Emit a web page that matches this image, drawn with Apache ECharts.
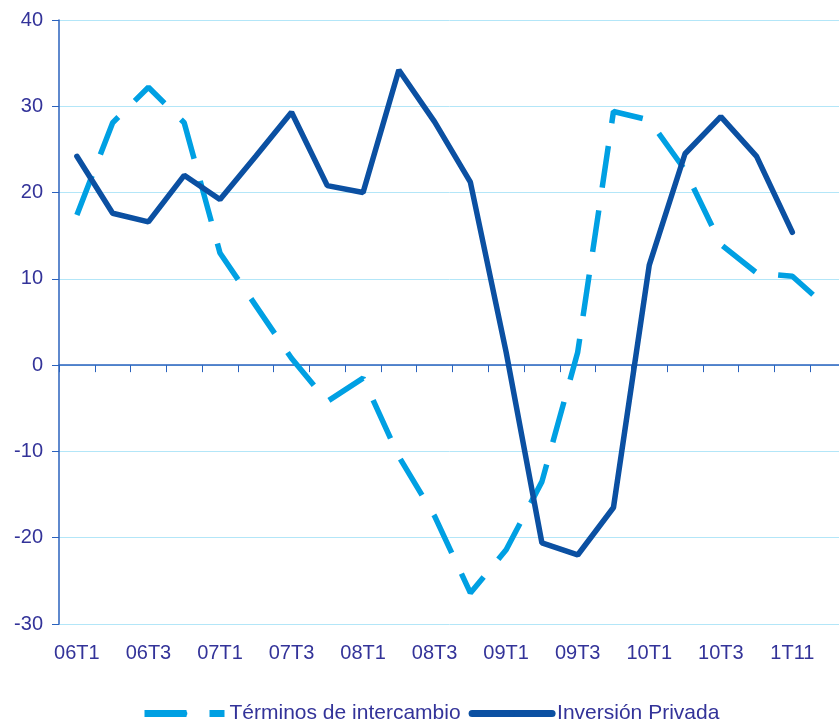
<!DOCTYPE html>
<html>
<head>
<meta charset="utf-8">
<script src="https://cdn.jsdelivr.net/npm/echarts@6/dist/echarts.min.js"></script>
<style>
   html, body { margin: 0; padding: 0; background: #fff; }
   #chart { width: 839px; height: 725px; }
</style>
</head>
<body>
<div id="chart"></div>
<script>
const quarters = [
   "06T1", "06T2", "06T3", "06T4",
   "07T1", "07T2", "07T3", "07T4",
   "08T1", "08T2", "08T3", "08T4",
   "09T1", "09T2", "09T3", "09T4",
   "10T1", "10T2", "10T3", "10T4",
   "1T11", "2T11",
];

const terminosIntercambio = [
   17.4, 28.1, 32.2, 28.1, 13.0, 6.9, 0.8, -4.2, -1.5, -10.6, -17.5,
   -26.4, -21.4, -13.5, 1.5, 29.4, 28.4, 22.6, 14.0, 10.7, 10.3, 6.6,
];

const inversionPrivada = [
   24.2, 17.6, 16.6, 22.0, 19.2, 24.2, 29.3, 20.8, 20.0, 34.2, 28.2,
   21.2, 1.5, -20.6, -22.0, -16.5, 11.6, 24.5, 28.8, 24.2, 15.4, null,
];

const textColor = "#333399";
const axisColor = "#2a62bd";
const lightBlue = "#00a0e3";
const darkBlue = "#0b50a2";
const font = "'Liberation Sans', Arial, sans-serif";

const chart = echarts.init(document.getElementById("chart"));

chart.setOption({
   animation: false,
   // plot area runs a few px past the right edge of the canvas
   grid: { left: 59, top: 20, width: 787, height: 604, outerBoundsMode: "none" },
   legend: {
      left: 136,
      top: 698,
      itemWidth: 80,
      itemHeight: 7,
      itemGap: 8,
      textStyle: { color: textColor, fontSize: 21, fontFamily: font },
      data: [
         {
            name: "Términos de intercambio",
            lineStyle: { color: lightBlue, width: 7, type: [42, 23], cap: "butt" },
         },
         {
            name: "Inversión Privada",
            lineStyle: { color: darkBlue, width: 7, cap: "round" },
         },
      ],
   },
   xAxis: [
      {
         type: "category",
         data: quarters,
         axisLine: { onZero: true, lineStyle: { color: axisColor, width: 1.5 } },
         axisTick: { show: true, interval: 0, length: 7, lineStyle: { color: axisColor } },
         axisLabel: { show: false },
      },
      {
         type: "category",
         data: quarters,
         position: "bottom",
         axisLine: { show: false, onZero: false },
         axisTick: { show: false },
         axisLabel: {
            interval: 1,
            margin: 19,
            color: textColor,
            fontSize: 20,
            fontFamily: font,
         },
      },
   ],
   yAxis: {
      type: "value",
      min: -30,
      max: 40,
      interval: 10,
      axisLine: { show: true, lineStyle: { color: axisColor, width: 1.5 } },
      axisTick: { show: true, length: 7, lineStyle: { color: axisColor } },
      axisLabel: { margin: 16, color: textColor, fontSize: 20, fontFamily: font },
      splitLine: { lineStyle: { color: "#b3e6f8", width: 1 } },
   },
   series: [
      {
         name: "Términos de intercambio",
         type: "line",
         xAxisIndex: 0,
         data: terminosIntercambio,
         symbol: "none",
         lineStyle: { color: lightBlue, width: 5.5, type: [42, 23], cap: "butt" },
         itemStyle: { color: lightBlue },
      },
      {
         name: "Inversión Privada",
         type: "line",
         xAxisIndex: 0,
         data: inversionPrivada,
         symbol: "none",
         lineStyle: { color: darkBlue, width: 5.5, cap: "round" },
         itemStyle: { color: darkBlue },
         z: 3,
      },
   ],
});
</script>
</body>
</html>
